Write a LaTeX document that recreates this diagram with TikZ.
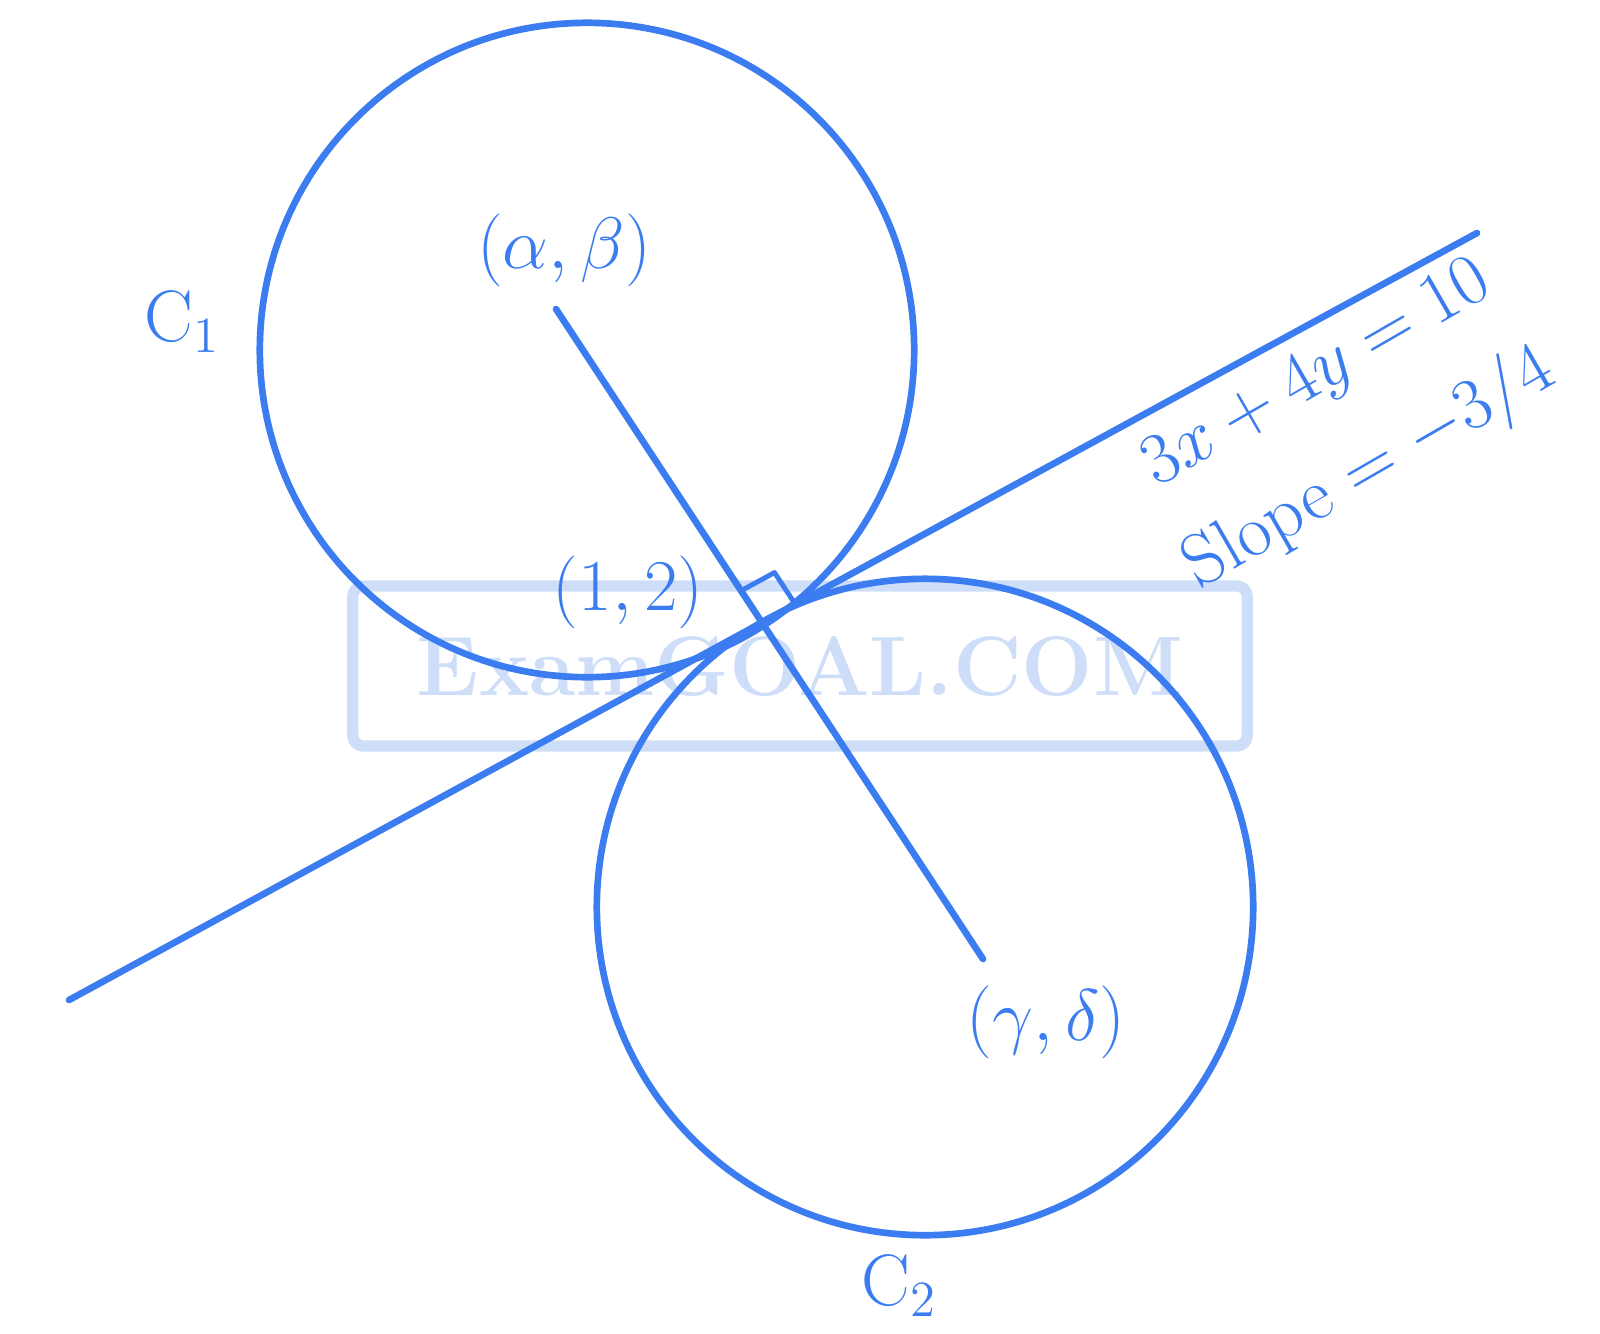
\documentclass[tikz,border=0pt]{standalone}
\usepackage{amsmath}
\usetikzlibrary{calc,intersections}
\definecolor{pen}{RGB}{59,125,240}
\definecolor{wm}{RGB}{206,222,249}
\begin{document}
\begin{tikzpicture}[x=0.01cm,y=-0.01cm,line cap=round,line join=round,
  penline/.style={draw=pen,line width=1.9pt},
  lbl/.style={text=pen,font=\fontsize{20}{24}\selectfont,inner sep=0pt},
  slbl/.style={text=pen,font=\fontsize{21}{25}\selectfont,inner sep=0pt,rotate=30}]
\useasboundingbox (0,0) rectangle (1600,1333);
% watermark
\node (wmark) at (800,666) [draw=wm,line width=3.2pt,rounded corners=3pt,
  minimum width=8.94cm,minimum height=1.6cm,text=wm,
  font=\bfseries\fontsize{24}{29}\selectfont] {ExamGOAL.COM};
% key points
\coordinate (c1) at (587,350);
\coordinate (c2) at (925,907);
\coordinate (la) at (556,309);
\coordinate (lb) at (983,959);
\coordinate (ta) at (69,1000);
\coordinate (tb) at (1477,233);
\path[name path=cl] (la) -- (lb);
\path[name path=tl] (ta) -- (tb);
\path[name intersections={of=cl and tl,by=t}];
% circles
\draw[penline] (c1) circle (3.27cm);
\draw[penline] (c2) circle (3.28cm);
% lines
\draw[penline] (la) -- (lb);
\draw[penline] (ta) -- (tb);
% right-angle mark
\coordinate (p1) at ($(t)!0.38cm!(la)$);
\coordinate (p2) at ($(t)!0.38cm!(tb)$);
\coordinate (pc) at ($(p1)+(p2)-(t)$);
\draw[draw=pen,line width=1.4pt] (p1) -- (pc) -- (p2);
% labels
\node[lbl] (ab) at (564,250) {$(\alpha,\beta)$};
\node[lbl] (C1) at (182,322) {$\mathrm{C}_1$};
\node[lbl] (pt) at (628,592) {$(1,2)$};
\node[lbl] (gd) at (1046,1022) {$(\gamma,\delta)$};
\node[lbl] (C2) at (899,1286) {$\mathrm{C}_2$};
\node[slbl] (eq) at (1318,376) {$3x + 4y = 10$};
\node[slbl] (sl) at (1370,470) {Slope $= -3/4$};
\end{tikzpicture}
\end{document}
